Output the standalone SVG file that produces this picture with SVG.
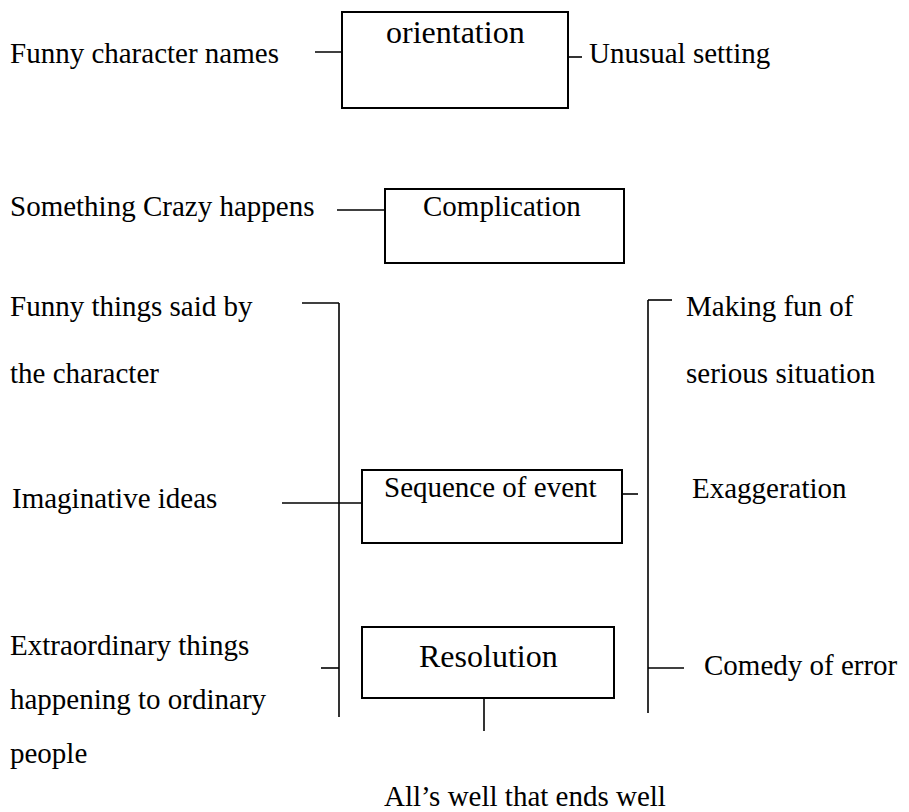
<svg xmlns="http://www.w3.org/2000/svg" width="909" height="812" viewBox="0 0 909 812">
  <style>
    text { font-family: "Liberation Serif", "Times New Roman", serif; font-size: 29px; fill: #000; }
    .big { font-size: 32px; }
    .box { fill: #fff; stroke: #000; stroke-width: 2; }
    .ln { stroke: #000; stroke-width: 1.6; fill: none; }
  </style>
  <rect width="909" height="812" fill="#fff"/>

  <!-- connectors -->
  <g id="connectors">
    <line class="ln" x1="315" y1="52" x2="382" y2="52"/>
    <line class="ln" x1="563" y1="57" x2="582" y2="57"/>
    <line class="ln" x1="337" y1="210" x2="385" y2="210"/>
    <!-- left spine -->
    <line class="ln" x1="302" y1="303" x2="339" y2="303"/>
    <line class="ln" x1="339" y1="303" x2="339" y2="717"/>
    <line class="ln" x1="282" y1="503" x2="362" y2="503"/>
    <line class="ln" x1="321" y1="668" x2="339" y2="668"/>
    <!-- right spine -->
    <line class="ln" x1="648" y1="300" x2="672" y2="300"/>
    <line class="ln" x1="648" y1="300" x2="648" y2="713"/>
    <line class="ln" x1="620" y1="494" x2="638" y2="494"/>
    <line class="ln" x1="648" y1="668" x2="684" y2="668"/>
    <!-- resolution stem -->
    <line class="ln" x1="484" y1="698" x2="484" y2="731"/>
  </g>

  <g id="orientation">
    <rect class="box" x="342" y="12" width="226" height="96"/>
    <text class="big" x="386" y="43">orientation</text>
  </g>
  <g id="funny-names"><text x="10" y="63">Funny character names</text></g>
  <g id="unusual-setting"><text x="589" y="63">Unusual setting</text></g>

  <g id="complication">
    <rect class="box" x="385" y="189" width="239" height="74"/>
    <text x="423" y="216">Complication</text>
  </g>
  <g id="something-crazy"><text x="10" y="216">Something Crazy happens</text></g>

  <g id="funny-things"><text x="10" y="316">Funny things said by</text><text x="10" y="383">the character</text></g>
  <g id="making-fun"><text x="686" y="316">Making fun of</text><text x="686" y="383">serious situation</text></g>

  <g id="sequence">
    <rect class="box" x="362" y="470" width="260" height="73"/>
    <text x="384" y="497">Sequence of event</text>
  </g>
  <g id="imaginative"><text x="12" y="508">Imaginative ideas</text></g>
  <g id="exaggeration"><text x="692" y="498">Exaggeration</text></g>

  <g id="resolution">
    <rect class="box" x="362" y="627" width="252" height="71"/>
    <text class="big" x="419" y="667">Resolution</text>
  </g>
  <g id="extraordinary">
    <text x="10" y="655">Extraordinary things</text>
    <text x="10" y="709">happening to ordinary</text>
    <text x="10" y="763">people</text>
  </g>
  <g id="comedy"><text x="704" y="675">Comedy of error</text></g>
  <g id="ends-well"><text x="384" y="806">All’s well that ends well</text></g>
</svg>
